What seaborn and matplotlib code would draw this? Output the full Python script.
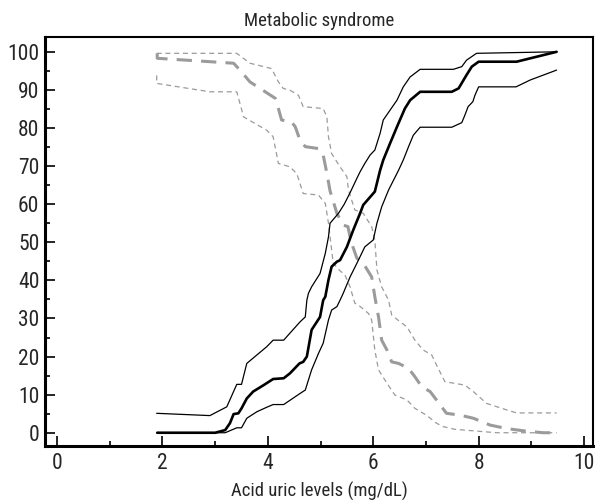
import matplotlib
matplotlib.use("Agg")
import matplotlib.pyplot as plt
from matplotlib import font_manager
from matplotlib.ticker import MultipleLocator
import seaborn as sns

# black curves (metabolic syndrome present), mean and bounds
ms_x = [1.9, 3.0, 3.19, 3.28, 3.35, 3.44, 3.5, 3.6, 3.72, 3.92, 4.1, 4.3, 4.42, 4.6, 4.67, 4.74,
        4.83, 4.99, 5.05, 5.09, 5.15, 5.21, 5.31, 5.37, 5.5, 5.62, 5.75, 5.81, 6.03, 6.13, 6.19,
        6.32, 6.45, 6.6, 6.7, 6.89, 7.49, 7.62, 7.77, 7.87, 8.0, 8.72, 9.48]
ms_y = [0, 0, 0.7, 2.5, 4.9, 5.1, 6.4, 9.0, 10.8, 12.5, 14.1, 14.3, 15.6, 18.2, 18.6, 20.0,
        27.0, 30.4, 34.8, 35.7, 40.1, 43.6, 44.9, 45.3, 48.8, 53.2, 57.6, 59.8, 63.3, 68.9, 71.6,
        76.0, 80.3, 85.1, 87.3, 89.5, 89.5, 90.4, 93.9, 96.1, 97.4, 97.4, 100]

ms_hi_x = [1.89, 2.9, 3.22, 3.41, 3.5, 3.6, 3.79, 3.98, 4.1, 4.3, 4.61, 4.71, 4.74, 4.77, 4.83,
           4.99, 5.09, 5.15, 5.18, 5.34, 5.45, 5.56, 5.69, 5.75, 5.84, 5.94, 6.03, 6.13, 6.19,
           6.32, 6.45, 6.57, 6.7, 6.89, 7.52, 7.68, 7.77, 7.96, 9.48]
ms_hi_y = [5.1, 4.5, 6.8, 12.7, 12.7, 18.2, 20.4, 22.6, 24.3, 24.3, 29.1, 30.4, 34.8, 36.6, 38.3,
           41.8, 47.1, 51.4, 55.0, 57.6, 60.0, 63.0, 66.8, 68.5, 70.7, 72.9, 74.2, 78.6, 82.1,
           84.7, 87.3, 90.8, 93.4, 95.4, 95.4, 96.1, 97.8, 99.6, 100]

ms_lo_x = [1.9, 3.19, 3.41, 3.5, 3.6, 3.79, 3.98, 4.1, 4.3, 4.61, 4.71, 4.83, 4.96, 5.05, 5.15,
           5.21, 5.31, 5.37, 5.43, 5.56, 5.69, 5.84, 6.0, 6.07, 6.16, 6.29, 6.48, 6.57, 6.67,
           6.76, 6.89, 7.49, 7.68, 7.74, 7.8, 7.89, 7.93, 8.0, 8.71, 8.98, 9.48]
ms_lo_y = [0, 0, 1.3, 1.3, 3.8, 5.5, 6.7, 7.4, 7.4, 10.3, 11.2, 16.5, 20.8, 23.5, 29.6,
           32.2, 33.1, 34.8, 36.6, 40.9, 44.5, 48.8, 50.6, 55.0, 59.3, 63.7, 68.9, 71.6, 75.1,
           78.1, 80.2, 80.2, 81.4, 83.4, 85.6, 86.9, 88.6, 90.8, 90.8, 92.6, 95.2]

# grey curves (no metabolic syndrome), mean and bounds
no_x = [1.9, 1.9, 3.35, 3.47, 3.66, 3.95, 4.14, 4.2, 4.26, 4.45, 4.52, 4.61, 4.71, 4.96, 5.05,
        5.12, 5.18, 5.31, 5.43, 5.52, 5.58, 5.69, 5.81, 5.97, 6.03, 6.1, 6.16, 6.26, 6.35, 6.48,
        6.67, 6.79, 6.92, 7.08, 7.2, 7.39, 7.65, 7.9, 8.22, 8.53, 8.91, 9.23, 9.48]
no_y = [99.6, 98.3, 97.0, 95.2, 92.1, 89.5, 87.8, 85.1, 82.1, 81.6, 80.3, 76.8, 75.1, 74.6, 72.9,
        68.1, 63.5, 57.6, 54.5, 54.1, 50.1, 45.8, 44.5, 40.9, 35.7, 30.4, 24.3, 21.7, 18.6, 18.2,
        16.9, 14.7, 12.1, 10.8, 8.6, 5.1, 4.6, 3.8, 2.0, 1.1, 0.4, 0, 0]

no_hi_x = [1.89, 3.41, 3.66, 4.07, 4.2, 4.29, 4.42, 4.58, 4.67, 5.05, 5.12, 5.15, 5.21, 5.37,
           5.5, 5.53, 5.65, 5.81, 5.97, 6.03, 6.07, 6.16, 6.29, 6.35, 6.51, 6.64, 6.79, 6.95,
           7.11, 7.2, 7.36, 7.74, 7.9, 8.15, 8.53, 8.72, 9.48]
no_hi_y = [99.6, 99.6, 97.0, 95.6, 92.1, 90.4, 89.9, 88.6, 85.6, 85.1, 82.9, 77.7, 73.3, 69.8,
           67.2, 63.7, 58.5, 57.6, 54.1, 50.6, 42.7, 38.3, 34.8, 30.9, 29.1, 27.8, 24.3, 21.7,
           20.4, 17.8, 13.4, 12.5, 10.8, 7.7, 6.0, 5.2, 5.2]

no_lo_x = [1.89, 1.89, 2.9, 3.41, 3.54, 3.98, 4.1, 4.2, 4.42, 4.55, 4.67, 4.96, 5.09, 5.15,
           5.24, 5.37, 5.46, 5.56, 5.65, 5.72, 5.91, 5.97, 6.03, 6.1, 6.26, 6.41, 6.64, 6.79,
           7.01, 7.2, 7.33, 7.55, 8.34, 9.48]
no_lo_y = [93.8, 91.7, 89.5, 89.5, 82.9, 79.4, 77.7, 70.7, 69.8, 68.0, 62.8, 62.4, 60.2, 55.0,
           44.5, 42.5, 41.5, 38.3, 34.0, 33.5, 31.3, 29.6, 21.7, 16.5, 13.0, 9.9, 8.6, 6.4,
           4.6, 2.5, 1.6, 0.9, 0, 0]

sns.set_style("ticks")
names = {f.name for f in font_manager.fontManager.ttflist}
narrow = [n for n in ['Liberation Sans Narrow', 'Roboto Condensed', 'Open Sans Condensed'] if n in names]
plt.rcParams['font.family'] = narrow + ['DejaVu Sans']
plt.rcParams['font.stretch'] = 'condensed'

fig = plt.figure(figsize=(5.95, 5.04), dpi=100)
ax = fig.add_axes([0.0756, 0.1157, 0.921, 0.811])

grey = "#9b9b9b"
sns.lineplot(x=no_hi_x, y=no_hi_y, ax=ax, sort=False, estimator=None, color=grey, lw=0.9, linestyle=(0, (4, 3)))
sns.lineplot(x=no_lo_x, y=no_lo_y, ax=ax, sort=False, estimator=None, color=grey, lw=0.9, linestyle=(0, (4, 3)))
sns.lineplot(x=no_x, y=no_y, ax=ax, sort=False, estimator=None, color=grey, lw=2.2, linestyle=(0, (5, 3)))
sns.lineplot(x=ms_hi_x, y=ms_hi_y, ax=ax, sort=False, estimator=None, color="black", lw=0.9)
sns.lineplot(x=ms_lo_x, y=ms_lo_y, ax=ax, sort=False, estimator=None, color="black", lw=0.9)
sns.lineplot(x=ms_x, y=ms_y, ax=ax, sort=False, estimator=None, color="black", lw=1.9)

ax.set_xlim(-0.23, 10.17)
ax.set_ylim(-3.4, 103.9)
ax.xaxis.set_major_locator(MultipleLocator(2))
ax.xaxis.set_minor_locator(MultipleLocator(1))
ax.yaxis.set_major_locator(MultipleLocator(10))
ax.yaxis.set_minor_locator(MultipleLocator(5))
ax.tick_params(which='major', direction='in', length=7, width=1.2, labelsize=15.5, color='black')
ax.tick_params(which='minor', direction='in', length=3.5, width=1.2, color='black')
ax.tick_params(axis='x', pad=5)
ax.tick_params(axis='y', pad=4)

for side in ['left', 'bottom']:
    ax.spines[side].set_linewidth(2.2)
for side in ['top', 'right']:
    ax.spines[side].set_linewidth(1.5)
for s in ax.spines.values():
    s.set_color('black')

ax.set_title("Metabolic syndrome", fontsize=13.5, pad=8)
ax.set_xlabel("Acid uric levels (mg/dL)", fontsize=13.5, labelpad=6)
ax.set_ylabel("")

fig.savefig("out.png", dpi=100)
